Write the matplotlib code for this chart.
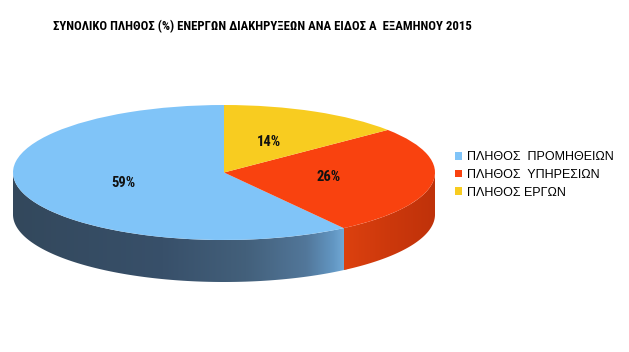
import numpy as np
import matplotlib
matplotlib.use("Agg")
import matplotlib.pyplot as plt
from matplotlib.colors import LinearSegmentedColormap
from matplotlib.patches import Polygon

# data
labels = ["ΠΛΗΘΟΣ  ΠΡΟΜΗΘΕΙΩΝ", "ΠΛΗΘΟΣ  ΥΠΗΡΕΣΙΩΝ", "ΠΛΗΘΟΣ ΕΡΓΩΝ"]
values = [59, 26, 14]
pct_labels = ["59%", "26%", "14%"]
colors = ["#80c4f8", "#f9420f", "#f8cc20"]
title = "ΣΥΝΟΛΙΚΟ ΠΛΗΘΟΣ (%) ΕΝΕΡΓΩΝ ΔΙΑΚΗΡΥΞΕΩΝ ΑΝΑ ΕΙΔΟΣ Α  ΕΞΑΜΗΝΟΥ 2015"

# shading of the side wall for each slice (left -> right gradient)
side_maps = [
    LinearSegmentedColormap.from_list("blue_side", [(0.0, "#33485c"), (0.45, "#38506a"),
                                                    (0.7, "#43607b"), (0.88, "#52779a"),
                                                    (0.96, "#6296c2"), (1.0, "#74acd9")]),
    LinearSegmentedColormap.from_list("red_side", ["#dc410f", "#cc380c", "#bf320a"]),
    LinearSegmentedColormap.from_list("yel_side", ["#d9ad12", "#c99f10"]),
]

plt.rcParams["font.family"] = ["Liberation Sans", "DejaVu Sans"]

W, H = 629, 352
fig = plt.figure(figsize=(W / 100, H / 100), dpi=100)
ax = fig.add_axes([0, 0, 1, 1])

wedges, _ = ax.pie(values, colors=colors, startangle=90, counterclock=True,
                   radius=1, wedgeprops=dict(linewidth=0))
for w in wedges:
    w.set_zorder(3)

# pixel geometry of the ellipse
cx, cy, rx, ry = 224, 172.5, 211, 67.5
depth = 42 / ry
xlim = (-cx / rx, (W - cx) / rx)
ylim = (-(H - cy) / ry, cy / ry)

# side walls, only the front half (180..360 deg) is visible
grad = np.linspace(0, 1, 256).reshape(1, -1)
for w, cmap in zip(wedges, side_maps):
    t1, t2 = w.theta1 % 360, w.theta2 % 360
    if t2 <= t1:
        t2 += 360
    for off in (0, 360):
        a, b = max(t1, 180 + off), min(t2, 360 + off)
        if b <= a:
            continue
        # small overlap into the next slice so no white seam shows
        b_draw = b + 1.0 if b < 360 + off else b
        ts = np.radians(np.linspace(a, b_draw, 200))
        top = np.column_stack([np.cos(ts), np.sin(ts)])
        bot = np.column_stack([np.cos(ts), np.sin(ts) - depth])[::-1]
        pts = np.vstack([top, bot])
        patch = Polygon(pts, closed=True, facecolor="none", edgecolor="none")
        ax.add_patch(patch)
        x0, x1 = pts[:, 0].min(), pts[:, 0].max()
        y0, y1 = pts[:, 1].min(), pts[:, 1].max()
        im = ax.imshow(grad, cmap=cmap, extent=(x0, x1, y0, y1), aspect="auto",
                       interpolation="bilinear", zorder=2)
        im.set_clip_path(patch)

ax.set_aspect("auto")
ax.set_xlim(*xlim)
ax.set_ylim(*ylim)
ax.axis("off")

# percentage labels
for w, txt in zip(wedges, pct_labels):
    mid = np.radians((w.theta1 + w.theta2) / 2)
    ax.text(0.5 * np.cos(mid), 0.5 * np.sin(mid), txt, ha="center", va="center",
            fontsize=10.5, fontweight="bold", color="#111111", zorder=5,
            family=["Roboto Condensed", "Liberation Sans", "DejaVu Sans"])

fig.text(262 / W, 1 - 27 / H, title, ha="center", va="center", fontsize=9.2,
         fontweight="bold", family=["Roboto Condensed", "Liberation Sans", "DejaVu Sans"])

ax.legend(wedges, labels, loc="center left", bbox_to_anchor=(450 / W, 1 - 175 / H),
          frameon=False, fontsize=9, handlelength=0.55, handleheight=0.55,
          handletextpad=0.4, labelspacing=0.45, borderaxespad=0)

fig.savefig("out.png", dpi=100)
